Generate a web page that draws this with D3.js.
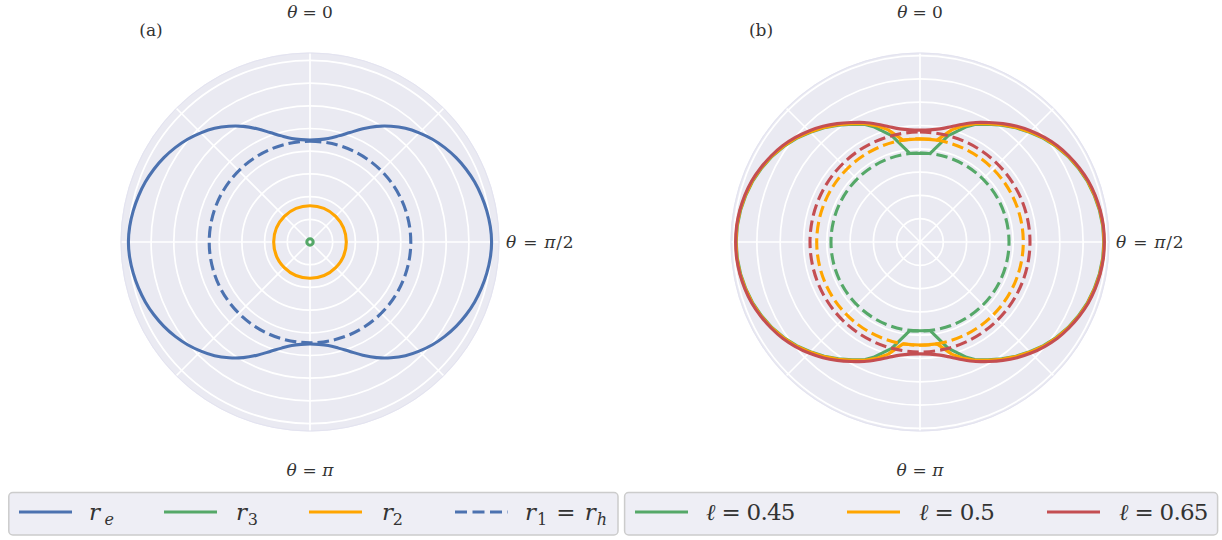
<!DOCTYPE html>
<html><head><meta charset="utf-8">
<script src="https://cdn.jsdelivr.net/npm/d3@7"></script>
<style>body{margin:0;background:#fff} svg{display:block}</style>
</head><body><svg id="c" width="1222" height="540"></svg>
<script>
// ---- data (angles in degrees, 0 = pole; curves symmetric about the axis and the equator) ----
const gridTicks = [0.25,0.5,0.75,1.0,1.25,1.5,1.75,2.0];
const spokeAngles = [0,45,90,135,180,225,270,315];
const axisLabels = ["θ = 0", "θ = π/2", "θ = π"];

// panel (a)
const thetaA = [0,5,10,15,20,25,30,35,40,45,50,55,60,65,70,75,80,85,90];
const rE_A   = [1.123,1.132,1.158,1.21,1.283,1.375,1.47,1.556,1.635,1.70,1.76,1.812,1.858,1.897,1.93,1.956,1.977,1.993,2.0];
const r3_A = 0.035;
const r2_A = 0.40;
const r1_A = 1.11;

// panel (b)
const ellValues = ["0.45","0.5","0.65"];
const thetaGreen = [0,6.4,14.9,22,25,30,35,40,45,50,55,60,65,70,75,80,85,90];
const rGreen     = [0.952,0.955,1.18,1.335,1.39,1.46,1.53,1.60,1.665,1.73,1.785,1.835,1.875,1.91,1.935,1.955,1.968,1.972];
const thetaOrange = [0,5,9.5,15.8,20,25,30,35,40,45,50,55,60,65,70,75,80,85,90];
const rOrange     = [1.105,1.105,1.108,1.25,1.325,1.40,1.465,1.535,1.605,1.67,1.735,1.79,1.84,1.88,1.915,1.94,1.96,1.972,1.975];
const thetaRed = [0,5,10,15,20,25,30,35,40,45,50,55,60,65,70,75,80,85,90];
const rRed     = [1.20,1.207,1.232,1.28,1.345,1.415,1.48,1.55,1.62,1.685,1.745,1.80,1.845,1.885,1.92,1.945,1.963,1.975,1.978];
const rHorizonB = [0.955, 1.108, 1.18];

const C = {blue:"#4C72B0", green:"#55A868", orange:"#FFA500", red:"#C44E52"};
const FONT = "'DejaVu Serif', 'Liberation Serif', serif";
const svg = d3.select("#c");
const R = 189.5;
const deg = Math.PI/180;

// mirror a quarter curve into the full closed curve (0..360)
function fullCurve(th, rs){
  const pts = [];
  th.forEach((t,i)=>pts.push([t, rs[i]]));
  for(let i=th.length-2;i>=0;i--) pts.push([180-th[i], rs[i]]);
  for(let i=1;i<th.length;i++) pts.push([180+th[i], rs[i]]);
  for(let i=th.length-2;i>0;i--) pts.push([360-th[i], rs[i]]);
  return pts;
}

function panel(cx, cy, rmax, label, labelX){
  const g = svg.append("g").attr("transform", `translate(${cx},${cy})`);
  const r = d3.scaleLinear().domain([0, rmax]).range([0, R]);
  g.append("circle").attr("r", R).attr("fill", "#EAEAF2");
  g.selectAll(".gc").data(gridTicks).join("circle")
    .attr("r", d=>r(d)).attr("fill","none").attr("stroke","#fff").attr("stroke-width",1.7);
  g.selectAll(".sp").data(spokeAngles).join("line")
    .attr("x1",0).attr("y1",0)
    .attr("x2", d=>R*Math.sin(d*deg)).attr("y2", d=>-R*Math.cos(d*deg))
    .attr("stroke","#fff").attr("stroke-width",1.7);
  g.append("circle").attr("r", R-0.5).attr("fill","none").attr("stroke","#E3E3F0").attr("stroke-width",1);
  const txt = (x,y,anchor,len)=>svg.append("text").attr("x",x).attr("y",y)
      .attr("text-anchor",anchor).attr("font-family",FONT)
      .attr("font-size",17).attr("fill","#333").attr("textLength",len).attr("lengthAdjust","spacing");
  function mathLabel(t, x, y, anchor, len){
    const el = txt(x,y,anchor,len);
    el.append("tspan").attr("font-style","italic").text(t.slice(0,1));
    el.append("tspan").text(t.slice(1).replace("π/2","").replace("π",""));
    if (t.includes("π")) {
      el.append("tspan").attr("font-style","italic").text("π");
      if (t.includes("/2")) el.append("tspan").text("/2");
    }
  }
  mathLabel(axisLabels[0], cx, cy-224, "middle", 45.5);
  mathLabel(axisLabels[1], cx+196, cy+5.5, "start", 67.5);
  mathLabel(axisLabels[2], cx, cy+234, "middle", 47);
  svg.append("text").attr("x",labelX).attr("y",36).attr("text-anchor","middle")
    .attr("font-family",FONT).attr("font-size",17)
    .attr("fill","#333").text(label);
  return {g, r};
}

// ---- panel (a) ----
const A = panel(310, 242, 2.087, "(a)", 151);
const smoothA = d3.lineRadial().angle(d=>d[0]*deg).radius(d=>A.r(d[1])).curve(d3.curveCatmullRomClosed);
A.g.append("path").datum(fullCurve(thetaA, rE_A)).attr("d", smoothA)
  .attr("fill","none").attr("stroke",C.blue).attr("stroke-width",3.1);
A.g.append("circle").attr("r", A.r(r3_A)).attr("fill","none").attr("stroke",C.green).attr("stroke-width",3.1);
A.g.append("circle").attr("r", A.r(r2_A)).attr("fill","none").attr("stroke",C.orange).attr("stroke-width",3.1);
A.g.append("circle").attr("r", A.r(r1_A)).attr("fill","none").attr("stroke",C.blue).attr("stroke-width",3.1)
  .attr("stroke-dasharray","11.5 5").attr("transform","rotate(-90)");

// ---- panel (b) ----
const B = panel(920, 242, 2.033, "(b)", 761);
const linB = d3.lineRadial().angle(d=>d[0]*deg).radius(d=>B.r(d[1])).curve(d3.curveLinearClosed);
const smoothB = d3.lineRadial().angle(d=>d[0]*deg).radius(d=>B.r(d[1])).curve(d3.curveCatmullRomClosed);
const bCurves = [
  {th: thetaGreen, rs: rGreen, c: C.green, h: rHorizonB[0], gen: linB},
  {th: thetaOrange, rs: rOrange, c: C.orange, h: rHorizonB[1], gen: linB},
  {th: thetaRed, rs: rRed, c: C.red, h: rHorizonB[2], gen: smoothB}
];
bCurves.forEach(d=>{
  B.g.append("path").datum(fullCurve(d.th, d.rs)).attr("d", d.gen)
    .attr("fill","none").attr("stroke",d.c).attr("stroke-width",3.1).attr("stroke-linejoin","round");
  B.g.append("circle").attr("r", B.r(d.h)).attr("fill","none").attr("stroke",d.c).attr("stroke-width",3.1)
    .attr("stroke-dasharray","11.5 5").attr("transform","rotate(-90)");
});

// ---- legends ----
function legendBox(x0, x1){
  svg.append("rect").attr("x",x0).attr("y",492.5).attr("width",x1-x0).attr("height",42.5)
    .attr("rx",4).attr("fill","#EEEEF5").attr("stroke","#CCCCCC").attr("stroke-width",1.5);
}
function legText(x, len){
  return svg.append("text").attr("x",x).attr("y",520).attr("font-family",FONT).attr("font-size",23)
    .attr("fill","#333").attr("textLength",len).attr("lengthAdjust","spacing");
}
function legLine(x, color, dashed){
  const l = svg.append("line").attr("x1",x).attr("x2",x+53).attr("y1",512).attr("y2",512)
    .attr("stroke",color).attr("stroke-width",3.1);
  if (dashed) l.attr("stroke-dasharray","12 5.5");
}
legendBox(8.8, 618);
const legA = [
  {x:19, c:C.blue, tx:89, len:25, sub:"e", subItalic:true},
  {x:164, c:C.green, tx:236, len:22, sub:"3", subItalic:false},
  {x:309, c:C.orange, tx:382, len:21, sub:"2", subItalic:false}
];
legA.forEach(d=>{
  legLine(d.x, d.c, false);
  const t = legText(d.tx, d.len);
  t.append("tspan").attr("font-style","italic").text("r");
  t.append("tspan").attr("font-style", d.subItalic?"italic":"normal").attr("font-size",16).attr("dy",5).text(d.sub);
});
legLine(455, C.blue, true);
{
  const t = legText(525, 82);
  t.append("tspan").attr("font-style","italic").text("r");
  t.append("tspan").attr("font-size",16).attr("dy",5).text("1");
  t.append("tspan").attr("dy",-5).text(" = ");
  t.append("tspan").attr("font-style","italic").text("r");
  t.append("tspan").attr("font-style","italic").attr("font-size",16).attr("dy",5).text("h");
}
legendBox(624.6, 1217.6);
const legB = [
  {x:635, c:C.green, tx:706, len:89.5},
  {x:847, c:C.orange, tx:919, len:76},
  {x:1047, c:C.red, tx:1119, len:89.5}
];
legB.forEach((d,i)=>{
  legLine(d.x, d.c, false);
  const t = legText(d.tx, d.len);
  t.append("tspan").attr("font-style","italic").text("ℓ");
  t.append("tspan").text(" = " + ellValues[i]);
});
</script>
</body></html>
